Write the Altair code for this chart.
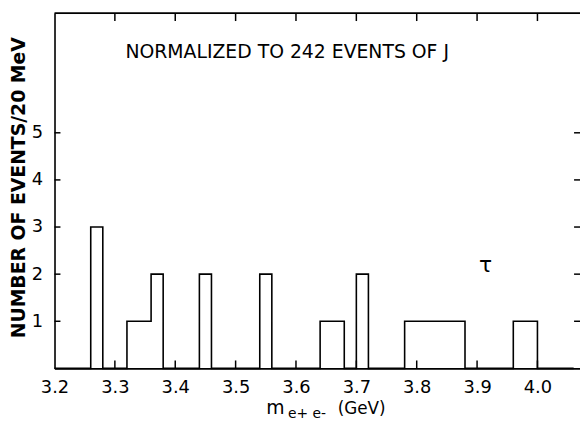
import altair as alt
import pandas as pd

# 20 MeV bins: lower edges (GeV) and event counts
bin_low = [3.20, 3.22, 3.24, 3.26, 3.28, 3.30, 3.32, 3.34, 3.36, 3.38,
           3.40, 3.42, 3.44, 3.46, 3.48, 3.50, 3.52, 3.54, 3.56, 3.58,
           3.60, 3.62, 3.64, 3.66, 3.68, 3.70, 3.72, 3.74, 3.76, 3.78,
           3.80, 3.82, 3.84, 3.86, 3.88, 3.90, 3.92, 3.94, 3.96, 3.98,
           4.00, 4.02, 4.04, 4.06]
counts = [0, 0, 0, 3, 0, 0, 1, 1, 2, 0,
          0, 0, 2, 0, 0, 0, 0, 2, 0, 0,
          0, 0, 1, 1, 0, 2, 0, 0, 0, 1,
          1, 1, 1, 1, 0, 0, 0, 0, 1, 1,
          0, 0, 0, 0]

x_tick_labels = [3.2, 3.3, 3.4, 3.5, 3.6, 3.7, 3.8, 3.9, 4.0]
x_minor = [3.3, 3.4, 3.5, 3.6, 3.7, 3.8, 3.9, 4.0]
y_tick_labels = [1, 2, 3, 4, 5]

note_text = ["NORMALIZED TO 242 EVENTS OF J"]
note_x = [3.3175]
note_y = [6.58]

mark_text = ["τ"]
mark_x = [3.903]
mark_y = [2.2]

FONT = "DejaVu Sans"
W, H = 531, 359
xs = alt.Scale(domain=[3.2, 4.0705], nice=False, zero=False)
ys = alt.Scale(domain=[0, 7.54], nice=False)

hist = pd.DataFrame({"m": bin_low, "n": counts})

line = alt.Chart(hist).mark_line(
    interpolate="step-after", color="black", strokeWidth=1.6
).encode(
    x=alt.X("m:Q", scale=xs, axis=alt.Axis(
        values=x_tick_labels, format=".1f", ticks=False, grid=False,
        labelFont=FONT, labelFontSize=18, labelColor="black", labelPadding=10,
        domainColor="black", domainWidth=1.6, title=None, labelFlush=False)),
    y=alt.Y("n:Q", scale=ys, axis=alt.Axis(
        values=y_tick_labels, format="d", ticks=False, grid=False,
        labelFont=FONT, labelFontSize=18, labelColor="black", labelPadding=12,
        domainColor="black", domainWidth=1.6,
        title="NUMBER OF EVENTS/20 MeV", titleFont=FONT, titleFontSize=19,
        titleFontWeight="bold", titleColor="black",
        titleX=-36, titleY=176, titleAngle=270, titleAlign="center",
        titleBaseline="middle")),
)

top_frame = alt.Chart(pd.DataFrame({"a": [0]})).mark_rule(
    color="black", strokeWidth=1.6
).encode(x=alt.value(0), x2=alt.value(W), y=alt.value(0))

xt = pd.DataFrame({"m": x_minor})
bottom_ticks = alt.Chart(xt).mark_rule(color="black", strokeWidth=1.5).encode(
    x=alt.X("m:Q", scale=xs), y=alt.value(H), y2=alt.value(H - 8))
top_ticks = alt.Chart(xt).mark_rule(color="black", strokeWidth=1.5).encode(
    x=alt.X("m:Q", scale=xs), y=alt.value(0), y2=alt.value(8))

yt = pd.DataFrame({"n": y_tick_labels})
left_ticks = alt.Chart(yt).mark_rule(color="black", strokeWidth=1.5).encode(
    y=alt.Y("n:Q", scale=ys), x=alt.value(0), x2=alt.value(6))
right_ticks = alt.Chart(yt).mark_rule(color="black", strokeWidth=1.5).encode(
    y=alt.Y("n:Q", scale=ys), x=alt.value(W - 6), x2=alt.value(W))

note = alt.Chart(pd.DataFrame({"t": note_text, "x": note_x, "y": note_y})).mark_text(
    font=FONT, fontSize=19, align="left", baseline="alphabetic", color="black"
).encode(x=alt.X("x:Q", scale=xs), y=alt.Y("y:Q", scale=ys), text="t:N")

tau = alt.Chart(pd.DataFrame({"t": mark_text, "x": mark_x, "y": mark_y})).mark_text(
    font=FONT, fontSize=22, align="left", baseline="middle", color="black"
).encode(x=alt.X("x:Q", scale=xs), y=alt.Y("y:Q", scale=ys), text="t:N")

# x-axis title m_{e+e-} (GeV) composed of pieces
xt_parts = ["m", "e+  e-", "(GeV)"]
xt_x = [3.5508, 3.5869, 3.6690]
xt_y = [-0.977, -1.05, -0.977]
xt_size = [19, 14, 17]
xtitle = alt.Chart(pd.DataFrame({"t": xt_parts, "x": xt_x, "y": xt_y, "s": xt_size})).mark_text(
    font=FONT, align="left", baseline="alphabetic", color="black"
).encode(x=alt.X("x:Q", scale=xs), y=alt.Y("y:Q", scale=ys), text="t:N",
         size=alt.Size("s:Q", scale=None, legend=None))

chart = alt.layer(
    line, top_frame, bottom_ticks, top_ticks, left_ticks, right_ticks, note, tau, xtitle
).properties(
    width=W, height=H,
    autosize=alt.AutoSizeParams(type="none"),
    padding={"left": 47, "top": 3, "right": 0, "bottom": 52},
).configure_view(stroke=None).configure(background="white")

chart.save("out.html", embed_options={"renderer": "svg", "actions": False})
